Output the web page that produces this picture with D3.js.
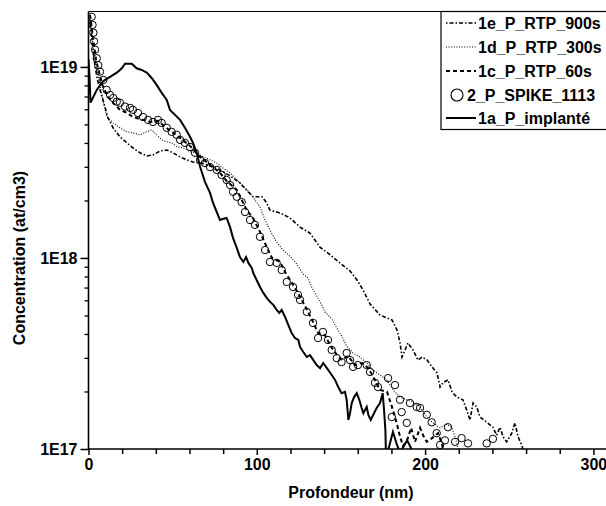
<!DOCTYPE html>
<html><head><meta charset="utf-8">
<script src="https://cdn.jsdelivr.net/npm/d3@7"></script>
<style>html,body{margin:0;padding:0;background:#fff;overflow:hidden}svg{display:block}text{font-family:"Liberation Sans",Arial,sans-serif;font-weight:bold;fill:#000}</style>
</head><body><div id="chart"></div>
<script>
// Depth (nm), concentration (at/cm3)
const implante = [[0,1.1e19],[0.6,8.9e18],[1.2,6.5e18],[2.9,6.97e18],[4.9,7.58e18],[7.8,8.25e18],[9.8,8.55e18],[12.8,8.87e18],[16.8,9.33e18],[19.8,9.84e18],[21.7,1.04e19],[25.7,1.04e19],[28.6,9.84e18],[31.6,9.64e18],[34.6,9.33e18],[37.5,8.75e18],[40.5,8.05e18],[43.5,7.31e18],[46.5,6.72e18],[48.4,5.96e18],[51.4,5.61e18],[54.4,5.28e18],[57.3,4.8e18],[60.3,4.31e18],[62.1,4.0e18],[64.3,3.55e18],[66.3,3.0e18],[69.2,2.5e18],[72.2,2.19e18],[74.0,1.94e18],[76.2,1.74e18],[78.1,1.58e18],[79.7,1.6e18],[82.1,1.62e18],[84.1,1.45e18],[85.9,1.27e18],[88.1,1.13e18],[90.0,1.01e18],[92.0,9.53e17],[93.6,1.01e18],[95.0,9.42e17],[97.0,8.87e17],[97.9,8.34e17],[99.9,7.67e17],[101.9,7.05e17],[103.9,6.56e17],[105.9,6.18e17],[107.9,5.89e17],[109.8,5.68e17],[111.8,5.35e17],[113.4,5.16e17],[114.8,5.35e17],[116.8,4.91e17],[118.7,4.46e17],[120.7,4.05e17],[122.7,3.81e17],[124.7,3.72e17],[125.7,3.42e17],[127.6,3.22e17],[129.7,3.03e17],[131.6,3.1e17],[133.6,2.92e17],[135.6,2.75e17],[137.6,2.65e17],[139.5,2.82e17],[141.1,2.69e17],[142.5,2.59e17],[144.5,2.44e17],[146.5,2.3e17],[148.4,2.11e17],[150.4,1.96e17],[152.4,1.99e17],[153.4,1.81e17],[154.4,1.42e17],[155.4,1.54e17],[156.4,1.74e17],[157.8,1.87e17],[159.4,1.96e17],[160.9,1.81e17],[162.3,1.64e17],[163.3,1.54e17],[164.3,1.6e17],[165.3,1.66e17],[166.3,1.51e17],[167.7,1.42e17],[169.2,1.51e17],[171.2,1.64e17],[173.2,1.74e17],[174.8,1.96e17],[175.6,1.6e17],[176.4,1.26e17],[176.8,9.0e16],[179.1,1.07e17],[180.9,1.23e17],[183.3,1.05e17],[185.1,9.6e16],[187.5,1.04e17],[189.3,1.11e17],[191.7,1.01e17],[193,9.0e16]];

const spike = [[1.9,1.83e19],[2.4,1.66e19],[2.9,1.51e19],[3.3,1.36e19],[3.9,1.23e19],[4.9,1.11e19],[5.8,1.02e19],[6.8,9.45e18],[8.8,8.55e18],[10.8,7.58e18],[12.8,7.13e18],[14.7,6.88e18],[16.8,6.58e18],[18.7,6.49e18],[21.7,6.2e18],[24.7,6.1e18],[26.4,5.96e18],[29.4,5.74e18],[32.4,5.47e18],[35.4,5.28e18],[38.3,5.15e18],[41.3,5.28e18],[43.5,5.09e18],[46.5,4.8e18],[49.4,4.57e18],[52.4,4.41e18],[54.4,4.15e18],[57.3,4.0e18],[60.3,3.81e18],[63.3,3.55e18],[66.3,3.26e18],[69.2,3.14e18],[72.2,2.99e18],[76.2,2.89e18],[79.1,2.72e18],[82.1,2.56e18],[84.1,2.41e18],[85.9,2.22e18],[88.1,2.09e18],[91.0,1.96e18],[93.0,1.74e18],[96.0,1.58e18],[98.9,1.49e18],[101.9,1.29e18],[104.9,1.1e18],[107.8,9.53e17],[111.8,9.42e17],[114.8,8.65e17],[117.8,7.49e17],[121.5,7.05e17],[124.5,6.4e17],[125.7,6.03e17],[129.7,5.22e17],[133.4,4.57e17],[136.4,3.81e17],[139.3,4.1e17],[142.3,3.72e17],[144.5,3.3e17],[147.5,2.99e17],[150.4,2.85e17],[153.4,3.18e17],[155.4,2.92e17],[157.2,2.69e17],[160.1,2.75e17],[165.3,2.75e17],[167.3,2.53e17],[170.2,2.22e17],[172.0,2.11e17],[178.0,2.35e17],[180.2,1.47e17],[182.1,2.16e17],[185.1,1.81e17],[186.1,1.56e17],[189.1,1.37e17],[191.0,1.74e17],[195.0,1.66e17],[197.0,1.64e17],[201.0,1.51e17],[203.9,1.38e17],[206.9,1.21e17],[208.9,1.05e17],[211.8,1.11e17],[213.6,1.3e17],[217.8,1.09e17],[221.7,1.14e17],[225.5,1.07e17],[236.6,1.07e17],[240.3,1.13e17]];

const rtp60 = [[0.9,1.87e19],[2.1,1.56e19],[3.3,1.3e19],[4.5,1.09e19],[6.2,9.42e18],[8.6,7.86e18],[11.6,6.96e18],[14.0,6.56e18],[16.9,6.18e18],[18.7,5.96e18],[22.9,5.74e18],[26.4,5.47e18],[32.4,5.28e18],[36.5,5.15e18],[41.3,5.22e18],[45.5,4.85e18],[49.6,4.57e18],[54.4,4.25e18],[60.3,3.86e18],[66.3,3.38e18],[72.2,3.07e18],[78.1,2.79e18],[82.1,2.53e18],[88.1,2.27e18],[94.0,1.78e18],[97.7,1.62e18],[101.9,1.37e18],[105.9,1.14e18],[109.0,1.0e18],[113.8,9.53e17],[116.8,8.45e17],[120.9,7.4e17],[124.5,6.56e17],[128.6,5.61e17],[132.8,4.74e17],[136.4,4.05e17],[140.5,3.95e17],[143.5,3.5e17],[147.6,3.11e17],[150.6,2.92e17],[154.2,3.07e17],[158.3,2.75e17],[162.5,2.82e17],[166.1,2.66e17],[170.2,2.3e17],[173.2,2.04e17],[177.4,1.99e17],[180.9,1.6e17],[183.1,1.37e17],[185.1,1.16e17],[186.9,1.04e17],[189.3,1.11e17],[191.7,1.29e17],[194.0,1.09e17],[197.0,1.29e17],[198.8,1.18e17],[201.0,1.09e17],[204.1,1.14e17],[207.7,1.21e17],[209.9,1.07e17],[211.2,9.6e16]];

const rtp300 = [[0.9,1.81e19],[2.1,1.47e19],[3.3,1.16e19],[5.1,9.64e18],[6.8,8.05e18],[8.6,6.72e18],[10.8,5.49e18],[14.6,5.09e18],[18.7,4.8e18],[22.7,4.58e18],[26.4,4.51e18],[30.6,4.41e18],[34.6,4.58e18],[37.6,4.68e18],[40.5,4.41e18],[43.5,4.15e18],[46.5,4.06e18],[49.4,4.0e18],[52.4,3.83e18],[56.1,3.77e18],[60.3,3.6e18],[64.3,3.55e18],[68.0,3.39e18],[72.2,3.26e18],[76.2,3.14e18],[79.9,2.96e18],[84.1,2.79e18],[88.2,2.56e18],[91.8,2.38e18],[96.0,2.19e18],[98.9,2.01e18],[101.9,1.85e18],[104.9,1.58e18],[107.8,1.4e18],[111.8,1.21e18],[115.6,1.1e18],[119.7,1.02e18],[123.7,9.3e17],[127.5,8.25e17],[130.4,7.86e17],[132.6,7.05e17],[135.6,6.32e17],[138.6,5.67e17],[140.5,5.22e17],[144.5,4.8e17],[147.5,4.3e17],[150.4,3.91e17],[153.4,3.46e17],[157.2,3.18e17],[161.3,3.03e17],[165.3,2.82e17],[169.0,2.59e17],[173.2,2.44e17],[177.2,2.3e17],[180.9,2.04e17],[185.1,1.87e17],[189.1,1.81e17],[192.8,1.76e17],[197.0,1.66e17],[201.0,1.47e17],[204.7,1.37e17],[208.9,1.29e17],[212.4,1.35e17],[215.8,1.3e17],[217.8,1.16e17],[219.0,1.05e17],[220.1,9.5e16]];

const rtp900 = [[0.9,1.76e19],[2.1,1.38e19],[3.3,1.09e19],[5.1,8.75e18],[6.8,7.58e18],[8.6,6.72e18],[11.6,5.41e18],[14.6,4.8e18],[18.7,4.3e18],[22.9,4.0e18],[26.4,3.77e18],[30.6,3.55e18],[34.8,3.42e18],[38.3,3.46e18],[42.5,3.63e18],[46.6,3.67e18],[50.2,3.55e18],[54.4,3.38e18],[58.5,3.26e18],[62.1,3.18e18],[66.3,3.14e18],[70.4,3.07e18],[74.0,2.99e18],[78.1,2.89e18],[84.1,2.69e18],[90.0,2.47e18],[94.8,2.22e18],[97.8,2.09e18],[103.1,2.09e18],[105.9,1.94e18],[107.8,1.78e18],[113.8,1.72e18],[119.7,1.62e18],[125.7,1.45e18],[131.6,1.35e18],[137.5,1.14e18],[143.5,1.04e18],[149.4,9.42e17],[155.4,8.55e17],[159.5,7.67e17],[163.1,6.8e17],[167.3,5.74e17],[173.2,5.03e17],[177.4,4.85e17],[180.3,4.74e17],[183.3,4.2e17],[185.1,3.59e17],[186.3,3.03e17],[188.1,3.3e17],[189.8,3.59e17],[192.8,3.3e17],[195.8,2.92e17],[198.2,3.03e17],[201.2,2.92e17],[204.1,2.69e17],[207.1,2.5e17],[208.9,2.11e17],[210.6,2.22e17],[213.6,2.3e17],[216.0,1.99e17],[218.8,1.87e17],[222.5,1.81e17],[224.7,1.6e17],[226.7,1.42e17],[228.5,1.74e17],[230.7,1.66e17],[232.6,1.47e17],[236.6,1.38e17],[240.3,1.3e17],[242.5,1.18e17],[244.5,1.3e17],[246.3,1.16e17],[248.5,1.09e17],[251.5,1.21e17],[253.4,1.37e17],[255.2,1.16e17],[257.4,1.05e17],[258.8,9.6e16]];

const xTickValues = [0, 100, 200, 300];
const yTickValues = [1e17, 1e18, 1e19];
const yTickLabels = ["1E17", "1E18", "1E19"];
const legendLabels = ["1e_P_RTP_900s", "1d_P_RTP_300s", "1c_P_RTP_60s", "2_P_SPIKE_1113", "1a_P_implanté"];
const xTitle = "Profondeur (nm)";
const yTitle = "Concentration (at/cm3)";

const W = 606, H = 506;
const mLeft = 88.5, mTop = 11.5, mBottom = 449;
const FS = 16;
const x = d3.scaleLinear().domain([0, 310]).range([mLeft, mLeft + 310 * 1.683]);
const y = d3.scaleLog().domain([1e17, 1.95e19]).range([mBottom, mTop]);

const svg = d3.select("#chart").append("svg").attr("width", W).attr("height", H);
svg.append("rect").attr("width", W).attr("height", H).attr("fill", "#fff");

svg.append("clipPath").attr("id", "clip").append("rect")
  .attr("x", mLeft).attr("y", mTop).attr("width", W - mLeft).attr("height", mBottom - mTop);

const plot = svg.append("g").attr("clip-path", "url(#clip)");
const line = d3.line().x(d => x(d[0])).y(d => y(d[1]));

const styles = {
  rtp900: {w: 1.6, dash: "1.5,2,4,2"},
  rtp300: {w: 1.1, dash: "1,1.6"},
  rtp60: {w: 2, dash: "4,3"},
  implante: {w: 2, dash: null}
};
function drawLine(data, st) {
  const p = plot.append("path").datum(data).attr("d", line)
    .attr("fill", "none").attr("stroke", "#000").attr("stroke-width", st.w);
  if (st.dash) p.attr("stroke-dasharray", st.dash);
}
drawLine(rtp900, styles.rtp900);
drawLine(rtp300, styles.rtp300);
drawLine(rtp60, styles.rtp60);
plot.selectAll("circle.spk").data(spike).enter().append("circle").attr("class", "spk")
  .attr("cx", d => x(d[0])).attr("cy", d => y(d[1])).attr("r", 3.7)
  .attr("fill", "none").attr("stroke", "#000").attr("stroke-width", 1);
drawLine(implante, styles.implante);

// top frame
svg.append("line").attr("x1", mLeft).attr("x2", W).attr("y1", mTop).attr("y2", mTop)
  .attr("stroke", "#000").attr("stroke-width", 1.2);

// x axis
const xMinor = d3.range(0, 301, 20).filter(v => v % 100 !== 0);
const gx = svg.append("g").attr("transform", `translate(0,${mBottom})`)
  .call(d3.axisBottom(x).tickValues(xTickValues).tickFormat(d3.format("d")).tickSize(6).tickPadding(4).tickSizeOuter(0));
gx.select(".domain").remove();
gx.selectAll(".tick line").attr("stroke-width", 1.5);
gx.selectAll(".tick text").attr("font-size", FS).attr("font-family", "Liberation Sans, Arial, sans-serif").attr("font-weight", "bold");
const gxm = svg.append("g").attr("transform", `translate(0,${mBottom})`)
  .call(d3.axisBottom(x).tickValues(xMinor).tickSize(5).tickFormat("").tickSizeOuter(0));
gxm.select(".domain").remove();
gxm.selectAll(".tick line").attr("stroke-width", 1.5);
svg.append("line").attr("x1", mLeft).attr("x2", W).attr("y1", mBottom).attr("y2", mBottom)
  .attr("stroke", "#000").attr("stroke-width", 1.6);

// y axis
const gy = svg.append("g").attr("transform", `translate(${mLeft},0)`)
  .call(d3.axisLeft(y).tickValues(yTickValues).tickFormat((d, i) => yTickLabels[i]).tickSize(8).tickPadding(3).tickSizeOuter(0));
gy.select(".domain").remove();
gy.selectAll(".tick line").attr("stroke-width", 1.5);
gy.selectAll(".tick text").attr("font-size", FS).attr("font-family", "Liberation Sans, Arial, sans-serif").attr("font-weight", "bold");
const yMinor = [];
[1e17, 1e18].forEach(b => { for (let k = 2; k <= 9; k++) yMinor.push(b * k); });
const gym = svg.append("g").attr("transform", `translate(${mLeft},0)`)
  .call(d3.axisLeft(y).tickValues(yMinor).tickSize(4).tickFormat("").tickSizeOuter(0));
gym.select(".domain").remove();
gym.selectAll(".tick line").attr("stroke-width", 1.3);
svg.append("line").attr("x1", mLeft).attr("x2", mLeft).attr("y1", mTop).attr("y2", mBottom)
  .attr("stroke", "#000").attr("stroke-width", 1.6);

// titles
svg.append("text").attr("x", 351).attr("y", 498).attr("text-anchor", "middle")
  .attr("font-size", 16).text(xTitle);
svg.append("text").attr("transform", "translate(25,258) rotate(-90)").attr("text-anchor", "middle")
  .attr("font-size", 16).text(yTitle);

// legend
const lg = svg.append("g");
lg.append("rect").attr("x", 441).attr("y", mTop).attr("width", 200).attr("height", 118)
  .attr("fill", "#fff").attr("stroke", "#000").attr("stroke-width", 1.2);
const ly = [23, 47, 71, 95, 118];
const legendStyles = [styles.rtp900, styles.rtp300, styles.rtp60, null, styles.implante];
legendLabels.forEach((lab, i) => {
  const st = legendStyles[i];
  if (st) {
    const l = lg.append("line").attr("x1", 446).attr("x2", 476).attr("y1", ly[i]).attr("y2", ly[i])
      .attr("stroke", "#000").attr("stroke-width", st.w);
    if (st.dash) l.attr("stroke-dasharray", st.dash);
    lg.append("text").attr("x", 478).attr("y", ly[i]).attr("dy", "0.36em").attr("font-size", FS).text(lab);
  } else {
    lg.append("circle").attr("cx", 457).attr("cy", ly[i]).attr("r", 6)
      .attr("fill", "none").attr("stroke", "#000").attr("stroke-width", 1.1);
    lg.append("text").attr("x", 467).attr("y", ly[i]).attr("dy", "0.36em").attr("font-size", FS).text(lab);
  }
});
</script></body></html>
